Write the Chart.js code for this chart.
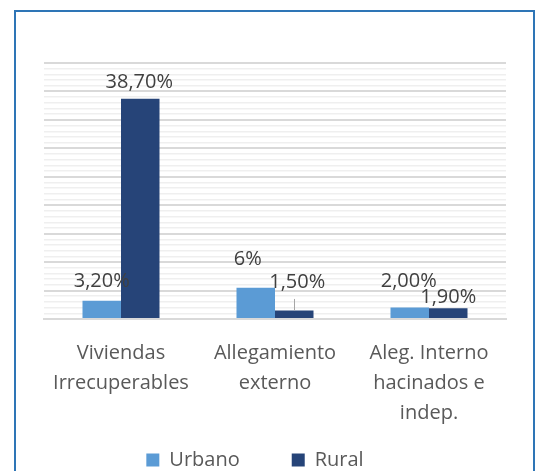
<!DOCTYPE html>
<html>
<head>
<meta charset="utf-8">
<script src="https://cdn.jsdelivr.net/npm/chart.js@4"></script>
<style>
  html, body { margin: 0; padding: 0; background: #fff; overflow: hidden; }
  #frame { position: absolute; left: 14px; top: 10px; width: 517px; height: 500px; border: 2px solid #2e75b6; border-bottom: none; }
  #chart { position: absolute; left: 0; top: 0; }
</style>
</head>
<body>
<div id="frame"></div>
<canvas id="chart" width="535" height="480"></canvas>
<script>
const categories = [['Viviendas', 'Irrecuperables'], ['Allegamiento', 'externo'], ['Aleg. Interno', 'hacinados e', 'indep.']];
const urbano = [3.2, 5.5, 2.0];
const rural = [38.7, 1.5, 1.9];
const urbanoLabels = ['3,20%', '6%', '2,00%'];
const ruralLabels = ['38,70%', '1,50%', '1,90%'];

const FONT = "'Open Sans', sans-serif";
const FSIZE = 20;

// label offsets from each bar top [dx, dy], per dataset
const labelPos = [
  [[0, 19], [-8, 28], [-1, 26]],
  [[-1, 17], [3, 28.5], [0, 11]]
];

const barLabels = {
  id: 'barLabels',
  afterLayout(chart) {
    // let the multi-line category labels run below the axis box
    chart.scales.x.bottom = chart.height;
  },
  afterDatasetsDraw(chart) {
    const ctx = chart.ctx;
    const texts = [urbanoLabels, ruralLabels];
    ctx.save();
    ctx.font = FSIZE + 'px ' + FONT;
    ctx.fillStyle = '#404040';
    ctx.textAlign = 'center';
    ctx.textBaseline = 'middle';
    chart.data.datasets.forEach((ds, d) => {
      chart.getDatasetMeta(d).data.forEach((bar, i) => {
        const [dx, dy] = labelPos[d][i];
        const ly = bar.y - dy;
        ctx.fillText(texts[d][i], bar.x + dx, ly);
        if (d === 1 && i === 1) {
          // leader line
          ctx.strokeStyle = '#a6a6a6';
          ctx.lineWidth = 1;
          ctx.beginPath();
          ctx.moveTo(Math.round(bar.x) + 0.5, ly + 17);
          ctx.lineTo(Math.round(bar.x) + 0.5, bar.y);
          ctx.stroke();
        }
      });
    });
    ctx.restore();
  }
};

const ctx = document.getElementById('chart').getContext('2d');
new Chart(ctx, {
  type: 'bar',
  data: {
    labels: categories,
    datasets: [
      {
        label: 'Urbano',
        data: urbano,
        backgroundColor: '#5b9bd5',
        categoryPercentage: 0.5,
        barPercentage: 1
      },
      {
        label: 'Rural',
        data: rural,
        backgroundColor: '#264478',
        categoryPercentage: 0.5,
        barPercentage: 1
      }
    ]
  },
  options: {
    responsive: false,
    animation: false,
    layout: { padding: { left: 4, right: 29, top: 63, bottom: 0 } },
    plugins: {
      legend: {
        position: 'bottom',
        labels: {
          boxWidth: 13,
          boxHeight: 13,
          padding: 52,
          color: '#595959',
          font: { family: FONT, size: FSIZE }
        }
      },
      tooltip: { enabled: false }
    },
    scales: {
      x: {
        grid: { display: false },
        border: { color: '#d9d9d9', width: 2 },
        ticks: {
          color: '#595959',
          font: { family: FONT, size: FSIZE, lineHeight: 1.5 },
          padding: 11,
          maxRotation: 0,
          autoSkip: false
        },
        afterFit: s => { s.height = 79; }
      },
      y: {
        min: 0,
        max: 45,
        ticks: { display: false, stepSize: 1, maxTicksLimit: 100 },
        grid: {
          color: c => c.tick.value % 5 === 0 ? '#d9d9d9' : '#efefef',
          lineWidth: c => c.tick.value % 5 === 0 ? 2 : 1.5,
          drawTicks: false
        },
        border: { display: false },
        afterFit: s => { s.width = 40; }
      }
    }
  },
  plugins: [barLabels]
});
</script>
</body>
</html>
